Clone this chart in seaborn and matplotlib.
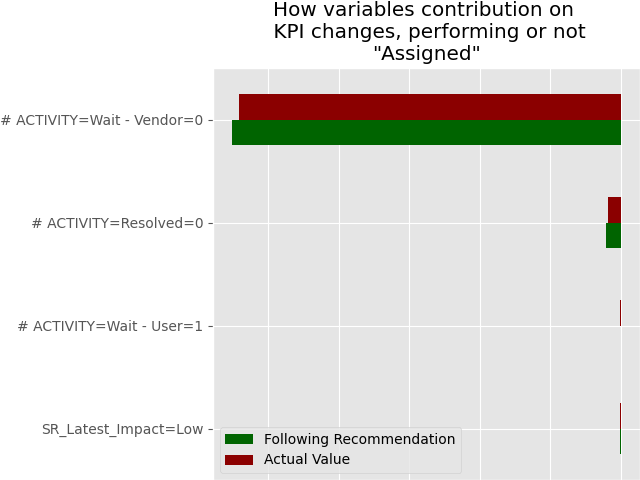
import matplotlib
matplotlib.use('Agg')
import matplotlib.pyplot as plt
import pandas as pd
import seaborn as sns

features = ['# ACTIVITY=Wait - Vendor=0', '# ACTIVITY=Resolved=0',
            '# ACTIVITY=Wait - User=1', 'SR_Latest_Impact=Low']
following_rec = [-0.551, -0.020, 0.0, -0.0015]
actual_value = [-0.541, -0.0185, -0.0015, -0.0015]

series_names = ['Following Recommendation', 'Actual Value']
series_colors = {'Following Recommendation': '#006400', 'Actual Value': '#8B0000'}

df = pd.DataFrame({
    'feature': features * 2,
    'contribution': following_rec + actual_value,
    'series': [series_names[0]] * len(features) + [series_names[1]] * len(features),
})

plt.style.use('ggplot')

fig = plt.figure(figsize=(6.4, 4.8), dpi=100)
ax = fig.add_axes([0.3328, 0.0, 0.6672, 0.858])

# red drawn above green inside each group
sns.barplot(data=df, x='contribution', y='feature', hue='series',
            hue_order=['Actual Value', 'Following Recommendation'],
            palette=series_colors, orient='h', width=0.5, saturation=1,
            linewidth=0, ax=ax)

ax.set_xlim(-0.5786, 0.0276)
ax.set_ylim(3.5, -0.5)
ax.grid(True, axis='both', color='white')
ax.set_axisbelow(True)
ax.set_xlabel('')
ax.set_ylabel('')
# x tick labels fall below the figure edge in the original
ax.tick_params(axis='x', labelbottom=False)
ax.set_title('How variables contribution on \n KPI changes, performing or not\n"Assigned"')

handles, labels = ax.get_legend_handles_labels()
ax.legend(handles[::-1], labels[::-1], loc='lower left')

fig.savefig('out.png', dpi=100)
